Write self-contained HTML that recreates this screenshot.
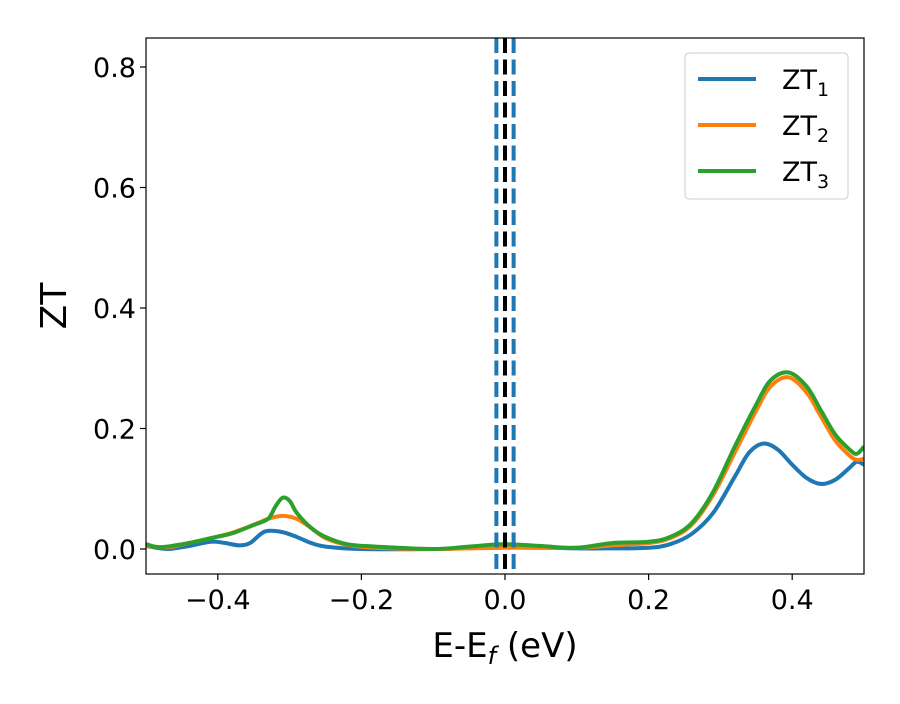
<!DOCTYPE html>
<html><head><meta charset="utf-8"><style>
body{margin:0;background:#fff;font-family:"DejaVu Sans",sans-serif}
</style></head><body>
<svg id="chart" width="900" height="700" xmlns="http://www.w3.org/2000/svg" font-family="DejaVu Sans, sans-serif">
<rect width="900" height="700" fill="#fff"/>
<g id="plot"></g>
</svg>
<script>
const xs1=[-0.5,-0.47,-0.44,-0.41,-0.39,-0.37,-0.355,-0.34,-0.33,-0.31,-0.29,-0.27,-0.25,-0.2,-0.1,0,0.1,0.15,0.2,0.23,0.26,0.29,0.32,0.34,0.36,0.38,0.40,0.42,0.44,0.46,0.48,0.49,0.5];
const zt1=[0.005,0.0,0.005,0.012,0.01,0.006,0.01,0.025,0.03,0.028,0.02,0.01,0.004,0.0,0.0,0.003,0.001,0.001,0.002,0.008,0.025,0.06,0.12,0.16,0.175,0.165,0.14,0.118,0.108,0.115,0.135,0.145,0.14];
const xs2=[-0.5,-0.47,-0.44,-0.41,-0.38,-0.35,-0.33,-0.31,-0.29,-0.27,-0.25,-0.22,-0.18,-0.1,0,0.1,0.15,0.2,0.23,0.26,0.29,0.32,0.35,0.37,0.395,0.42,0.44,0.46,0.48,0.49,0.5];
const zt2=[0.005,0.003,0.01,0.018,0.027,0.04,0.05,0.055,0.05,0.035,0.018,0.007,0.002,0.0,0.002,0.002,0.006,0.01,0.018,0.04,0.09,0.16,0.23,0.27,0.285,0.26,0.22,0.18,0.155,0.148,0.15];
const xs3=[-0.5,-0.48,-0.44,-0.41,-0.38,-0.35,-0.33,-0.32,-0.31,-0.3,-0.29,-0.27,-0.25,-0.22,-0.18,-0.1,-0.05,0,0.05,0.1,0.15,0.2,0.23,0.26,0.29,0.32,0.35,0.37,0.395,0.42,0.44,0.46,0.48,0.49,0.5];
const zt3=[0.008,0.003,0.01,0.018,0.026,0.04,0.05,0.07,0.085,0.08,0.06,0.035,0.02,0.008,0.004,0.0,0.004,0.008,0.005,0.002,0.01,0.012,0.02,0.043,0.095,0.17,0.24,0.28,0.293,0.27,0.23,0.19,0.165,0.158,0.17];
const xTicks=[-0.4,-0.2,0.0,0.2,0.4];
const xTickLabels=["\u22120.4","\u22120.2","0.0","0.2","0.4"];
const yTicks=[0.0,0.2,0.4,0.6,0.8];
const yTickLabels=["0.0","0.2","0.4","0.6","0.8"];
const seriesNames=["ZT","ZT","ZT"];
const seriesSubs=["1","2","3"];
const colors=["#1f77b4","#ff7f0e","#2ca02c"];
const vlinesBlue=[-0.012,0.012];
const vlineBlack=[0.0];

const L=146,R=864,T=38,B=574;
const X=v=>L+(v+0.5)*(R-L);
const Y=v=>549-v*602.5;
const NS="http://www.w3.org/2000/svg";
const g=document.getElementById('plot');
function mk(t,a){const e=document.createElementNS(NS,t);for(const k in a)e.setAttribute(k,a[k]);g.appendChild(e);return e;}
function smooth(xs,ys){const p=xs.map((x,i)=>[X(x),Y(ys[i])]);let d=`M${p[0][0]},${p[0][1]}`;
for(let i=0;i<p.length-1;i++){const p0=p[i-1]||p[i],p1=p[i],p2=p[i+1],p3=p[i+2]||p2;
d+=` C${p1[0]+(p2[0]-p0[0])/6},${p1[1]+(p2[1]-p0[1])/6} ${p2[0]-(p3[0]-p1[0])/6},${p2[1]-(p3[1]-p1[1])/6} ${p2[0]},${p2[1]}`;}return d;}
const defs=mk('clipPath',{id:'clip'});const cr=document.createElementNS(NS,'rect');cr.setAttribute('x',L);cr.setAttribute('y',T);cr.setAttribute('width',R-L);cr.setAttribute('height',B-T);defs.appendChild(cr);
[[xs1,zt1],[xs2,zt2],[xs3,zt3]].forEach((s,i)=>{const p=mk('path',{d:smooth(s[0],s[1]),fill:'none',stroke:colors[i],'stroke-width':4,'clip-path':'url(#clip)'});

});
vlineBlack.forEach(v=>{const l=mk('line',{x1:X(v),x2:X(v),y1:T,y2:B,stroke:'#000','stroke-width':4,'stroke-dasharray':'15,6.5'});

});
vlinesBlue.forEach(v=>{const l=mk('line',{x1:X(v),x2:X(v),y1:T,y2:B,stroke:'#1f77b4','stroke-width':4,'stroke-dasharray':'15,6.5'});

});
const fr=mk('rect',{x:L,y:T,width:R-L,height:B-T,fill:'none',stroke:'#000','stroke-width':1.2});


xTicks.forEach((v,i)=>{mk('line',{x1:X(v),x2:X(v),y1:B,y2:B+6,stroke:'#000','stroke-width':1.2});
const t=mk('text',{x:X(v),y:B+35,'text-anchor':'middle','font-size':27,fill:'#000'});t.textContent=xTickLabels[i];

});
yTicks.forEach((v,i)=>{mk('line',{x1:L-6,x2:L,y1:Y(v),y2:Y(v),stroke:'#000','stroke-width':1.2});
const t=mk('text',{x:L-10,y:Y(v)+10,'text-anchor':'end','font-size':27,fill:'#000'});t.textContent=yTickLabels[i];

});
const xt=mk('text',{x:505,y:657,'text-anchor':'middle','font-size':34,fill:'#000'});
xt.innerHTML='E-E<tspan font-style="italic" font-size="24" dy="7">f</tspan><tspan dy="-7"> (eV)</tspan>';


const yt=mk('text',{x:66,y:306,'text-anchor':'middle','font-size':36,fill:'#000',transform:'rotate(-90 66 306)'});yt.textContent='ZT';


const lg=mk('rect',{x:685,y:53,width:163,height:146,rx:4,fill:'#fff',stroke:'#ccc','stroke-width':1});


seriesNames.forEach((n,i)=>{const y=79+i*46;
mk('line',{x1:698,x2:756,y1:y,y2:y,stroke:colors[i],'stroke-width':4});
const t=mk('text',{x:782,y:y+10,'font-size':27,fill:'#000'});
t.innerHTML=n+'<tspan font-size="19" dy="7">'+seriesSubs[i]+'</tspan>';

});
</script>
</body></html>
